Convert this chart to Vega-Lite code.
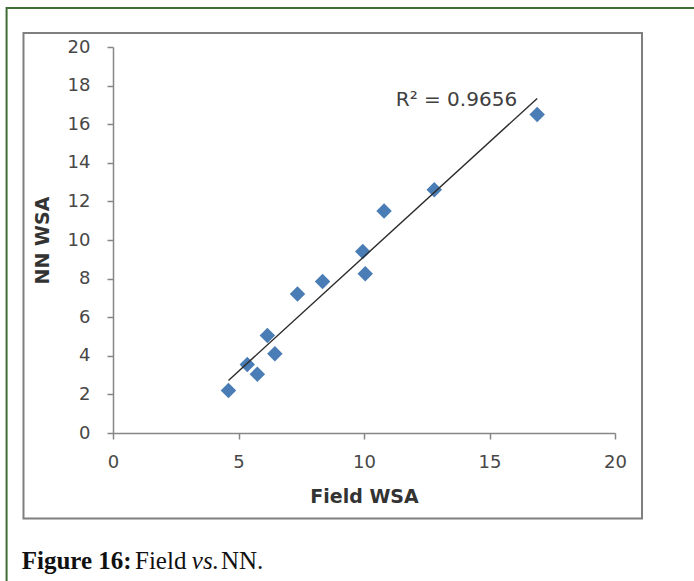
{
  "$schema": "https://vega.github.io/schema/vega-lite/v6.json",
  "width": 502,
  "height": 386,
  "autosize": {"type": "none"},
  "padding": {"left": 113, "top": 47, "right": 79, "bottom": 148},
  "background": "white",
  "config": {
    "view": {"stroke": null},
    "axis": {
      "grid": false,
      "domainColor": "#868686",
      "domainWidth": 1.5,
      "tickColor": "#868686",
      "tickWidth": 1.5,
      "tickSize": 6,
      "labelFont": "DejaVu Sans",
      "labelFontSize": 18,
      "labelColor": "#474747",
      "labelFlush": false,
      "labelOverlap": false,
      "titleFont": "DejaVu Sans",
      "titleFontSize": 19,
      "titleFontWeight": "bold",
      "titleColor": "#333333"
    },
    "axisY": {"labelPadding": 17, "titlePadding": 15},
    "axisX": {"labelPadding": 14, "titlePadding": 16}
  },
  "datasets": {
    "wsa": [
      {"field": 4.6, "nn": 2.2},
      {"field": 5.35, "nn": 3.55},
      {"field": 5.75, "nn": 3.05},
      {"field": 6.15, "nn": 5.05},
      {"field": 6.45, "nn": 4.1},
      {"field": 7.35, "nn": 7.2},
      {"field": 8.35, "nn": 7.85},
      {"field": 9.95, "nn": 9.4},
      {"field": 10.05, "nn": 8.25},
      {"field": 10.8, "nn": 11.5},
      {"field": 12.8, "nn": 12.6},
      {"field": 16.9, "nn": 16.5}
    ]
  },
  "layer": [
    {
      "data": {"name": "wsa"},
      "mark": {"type": "point", "shape": "diamond", "filled": true, "size": 240, "color": "#4a7db5", "opacity": 1},
      "encoding": {
        "x": {
          "field": "field", "type": "quantitative", "title": "Field WSA",
          "scale": {"domain": [0, 20], "nice": false},
          "axis": {"values": [0, 5, 10, 15, 20]}
        },
        "y": {
          "field": "nn", "type": "quantitative", "title": "NN WSA",
          "scale": {"domain": [0, 20], "nice": false},
          "axis": {"values": [0, 2, 4, 6, 8, 10, 12, 14, 16, 18, 20]}
        }
      }
    },
    {
      "data": {"name": "wsa"},
      "transform": [{"regression": "nn", "on": "field"}],
      "mark": {"type": "line", "color": "#2b2b2b", "strokeWidth": 1.4},
      "encoding": {
        "x": {"field": "field", "type": "quantitative", "title": "Field WSA", "scale": {"domain": [0, 20], "nice": false}, "axis": {"values": [0, 5, 10, 15, 20]}},
        "y": {"field": "nn", "type": "quantitative", "title": "NN WSA", "scale": {"domain": [0, 20], "nice": false}, "axis": {"values": [0, 2, 4, 6, 8, 10, 12, 14, 16, 18, 20]}}
      }
    },
    {
      "description": "outer figure frame",
      "data": {"values": [{}]},
      "mark": {"type": "rect", "fill": null, "stroke": "#3f6e34", "strokeWidth": 2, "clip": false},
      "encoding": {
        "x": {"datum": -4.24, "type": "quantitative", "title": "Field WSA", "scale": {"domain": [0, 20], "nice": false}, "axis": {"values": [0, 5, 10, 15, 20]}},
        "x2": {"datum": 25},
        "y": {"datum": 22.02, "type": "quantitative", "title": "NN WSA", "scale": {"domain": [0, 20], "nice": false}, "axis": {"values": [0, 2, 4, 6, 8, 10, 12, 14, 16, 18, 20]}},
        "y2": {"datum": -9}
      }
    },
    {
      "description": "chart area border",
      "data": {"values": [{}]},
      "mark": {"type": "rect", "fill": null, "stroke": "#7f7f7f", "strokeWidth": 2, "clip": false},
      "encoding": {
        "x": {"datum": -3.566, "type": "quantitative", "title": "Field WSA", "scale": {"domain": [0, 20], "nice": false}, "axis": {"values": [0, 5, 10, 15, 20]}},
        "x2": {"datum": 21.076},
        "y": {"datum": 20.725, "type": "quantitative", "title": "NN WSA", "scale": {"domain": [0, 20], "nice": false}, "axis": {"values": [0, 2, 4, 6, 8, 10, 12, 14, 16, 18, 20]}},
        "y2": {"datum": -4.43}
      }
    },
    {
      "data": {"values": [{}]},
      "mark": {"type": "text", "align": "right", "baseline": "middle", "font": "DejaVu Sans", "fontSize": 20, "color": "#404040"},
      "encoding": {
        "x": {"datum": 16.1, "type": "quantitative", "title": "Field WSA", "scale": {"domain": [0, 20], "nice": false}, "axis": {"values": [0, 5, 10, 15, 20]}},
        "y": {"datum": 17.25, "type": "quantitative", "title": "NN WSA", "scale": {"domain": [0, 20], "nice": false}, "axis": {"values": [0, 2, 4, 6, 8, 10, 12, 14, 16, 18, 20]}},
        "text": {"value": "R² = 0.9656"}
      }
    },
    {
      "description": "caption",
      "data": {"values": [{}]},
      "mark": {"type": "text", "align": "left", "baseline": "alphabetic", "font": "Liberation Serif", "fontSize": 25, "fontWeight": "bold", "color": "#111111", "clip": false},
      "encoding": {
        "x": {"datum": -3.637, "type": "quantitative", "title": "Field WSA", "scale": {"domain": [0, 20], "nice": false}, "axis": {"values": [0, 5, 10, 15, 20]}},
        "y": {"datum": -7.05, "type": "quantitative", "title": "NN WSA", "scale": {"domain": [0, 20], "nice": false}, "axis": {"values": [0, 2, 4, 6, 8, 10, 12, 14, 16, 18, 20]}},
        "text": {"value": "Figure 16:"}
      }
    },
    {
      "data": {"values": [{}]},
      "mark": {"type": "text", "align": "left", "baseline": "alphabetic", "font": "Liberation Serif", "fontSize": 25, "color": "#111111", "clip": false},
      "encoding": {
        "x": {"datum": 0.876, "type": "quantitative", "title": "Field WSA", "scale": {"domain": [0, 20], "nice": false}, "axis": {"values": [0, 5, 10, 15, 20]}},
        "y": {"datum": -7.05, "type": "quantitative", "title": "NN WSA", "scale": {"domain": [0, 20], "nice": false}, "axis": {"values": [0, 2, 4, 6, 8, 10, 12, 14, 16, 18, 20]}},
        "text": {"value": "Field"}
      }
    },
    {
      "data": {"values": [{}]},
      "mark": {"type": "text", "align": "left", "baseline": "alphabetic", "font": "Liberation Serif", "fontSize": 25, "fontStyle": "italic", "color": "#111111", "clip": false},
      "encoding": {
        "x": {"datum": 3.14, "type": "quantitative", "title": "Field WSA", "scale": {"domain": [0, 20], "nice": false}, "axis": {"values": [0, 5, 10, 15, 20]}},
        "y": {"datum": -7.05, "type": "quantitative", "title": "NN WSA", "scale": {"domain": [0, 20], "nice": false}, "axis": {"values": [0, 2, 4, 6, 8, 10, 12, 14, 16, 18, 20]}},
        "text": {"value": "vs."}
      }
    },
    {
      "data": {"values": [{}]},
      "mark": {"type": "text", "align": "left", "baseline": "alphabetic", "font": "Liberation Serif", "fontSize": 25, "color": "#111111", "clip": false},
      "encoding": {
        "x": {"datum": 4.3, "type": "quantitative", "title": "Field WSA", "scale": {"domain": [0, 20], "nice": false}, "axis": {"values": [0, 5, 10, 15, 20]}},
        "y": {"datum": -7.05, "type": "quantitative", "title": "NN WSA", "scale": {"domain": [0, 20], "nice": false}, "axis": {"values": [0, 2, 4, 6, 8, 10, 12, 14, 16, 18, 20]}},
        "text": {"value": "NN."}
      }
    }
  ]
}
